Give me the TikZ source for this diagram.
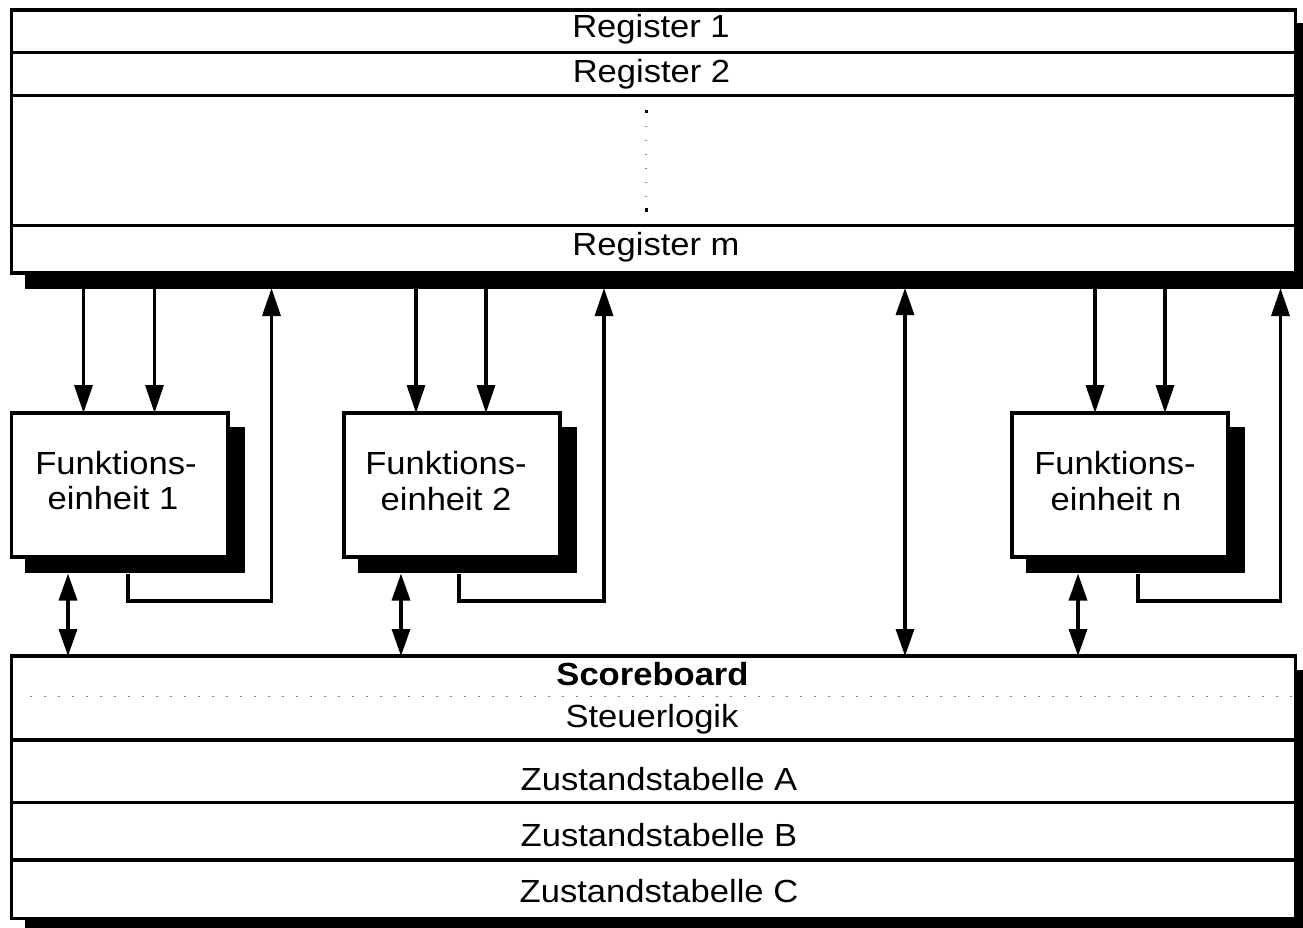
\documentclass[tikz,border=0pt]{standalone}
\usepackage{fontspec}
\setmainfont{Liberation Sans}[FakeStretch=1.08]
\usetikzlibrary{arrows.meta}
\newcommand\shadowof[1]{\fill ([shift={(13.5,13.5)}]#1.north west) rectangle ([shift={(16.5,16)}]#1.south east);}
\begin{document}
\begin{tikzpicture}[x=1pt,y=-1pt,
  blk/.style={draw=black, fill=white, line width=3.4pt, inner sep=0pt, outer sep=0pt},
  fubox/.style={blk, minimum width=216pt, minimum height=144pt},
  lbl/.style={font=\fontsize{32}{36}\selectfont, inner sep=0pt, anchor=base},
  rowline/.style={line width=3.4pt},
  dotline/.style={draw=gray, line width=1.5pt, dash pattern=on 1.5pt off 12.5pt},
  arr/.style={line width=3.4pt, -{Triangle[width=18pt,length=28pt]}},
  darr/.style={line width=3.4pt, {Triangle[width=18pt,length=27pt]}-{Triangle[width=18pt,length=27pt]}}]
\useasboundingbox (0,0) rectangle (1303,928);
\clip (0,0) rectangle (1303,928);
\fill[white] (0,0) rectangle (1303,928);

% ---------- register block ----------
\node[blk, minimum width=1284pt, minimum height=263pt] (reg) at (653.5,141.5) {};
\shadowof{reg}
\node[blk, minimum width=1284pt, minimum height=263pt] (regb) at (653.5,141.5) {};
\draw[rowline] (11.5,52.7) -- (1295.5,52.7);
\draw[rowline] (11.5,95.7) -- (1295.5,95.7);
\draw[rowline] (11.5,225.3) -- (1295.5,225.3);
\node[lbl] (r1) at (651,38) {Register 1};
\node[lbl] (r2) at (651.5,83) {Register 2};
\node[lbl] (rm) at (656,255) {Register m};
\draw[dotline] (646,112) -- (646,210);
\fill (644.5,110.5) rectangle (647.5,113.5);
\fill (644.5,208.5) rectangle (647.5,211.5);
\coordinate (regsh) at (0,288);

% ---------- scoreboard block ----------
\node[blk, minimum width=1284pt, minimum height=262.5pt] (sb) at (653.5,787.25) {};
\shadowof{sb}
\node[blk, minimum width=1284pt, minimum height=262.5pt] (sbb) at (653.5,787.25) {};
\draw[dotline] (30,696.5) -- (1292,696.5);
\draw[rowline] (11.5,740) -- (1295.5,740);
\draw[rowline] (11.5,802.3) -- (1295.5,802.3);
\draw[rowline] (11.5,860) -- (1295.5,860);
\node[lbl, font=\fontsize{32}{36}\selectfont\bfseries] (sbt) at (652.5,685) {Scoreboard};
\node[lbl] (st) at (652,727) {Steuerlogik};
\node[lbl] (za) at (659,790) {Zustandstabelle A};
\node[lbl] (zb) at (659,846) {Zustandstabelle B};
\node[lbl] (zc) at (659,902) {Zustandstabelle C};

% ---------- functional units ----------
\node[fubox, minimum width=216.5pt] (fu1) at (119.75,485) {};
\shadowof{fu1}
\node[fubox, minimum width=216.5pt] (fu1b) at (119.75,485) {};
\node[lbl] (fu1a) at (116,474) {Funktions-};
\node[lbl] (fu1c) at (113,509) {einheit 1};

\node[fubox] (fu2) at (452,485) {};
\shadowof{fu2}
\node[fubox] (fu2b) at (452,485) {};
\node[lbl] (fu2a) at (446,474) {Funktions-};
\node[lbl] (fu2c) at (446,510) {einheit 2};

\node[fubox] (fun) at (1120,485) {};
\shadowof{fun}
\node[fubox] (funb) at (1120,485) {};
\node[lbl] (funa) at (1115,474) {Funktions-};
\node[lbl] (func) at (1116,510) {einheit n};

\coordinate (fush) at (0,573.5);

% x positions of connectors
\coordinate (a11) at (83.5,0);  \coordinate (a12) at (154.5,0);
\coordinate (a1r) at (128,601); \coordinate (a1u) at (271.5,601);
\coordinate (a1d) at (68,0);
\coordinate (a21) at (416,0);   \coordinate (a22) at (486,0);
\coordinate (a2r) at (459,601); \coordinate (a2u) at (604,601);
\coordinate (a2d) at (401,0);
\coordinate (an1) at (1095,0);  \coordinate (an2) at (1165,0);
\coordinate (anr) at (1138,601); \coordinate (anu) at (1280.5,601);
\coordinate (and) at (1078,0);
\coordinate (along) at (905,0);

% ---------- connectors ----------
\draw[arr] (a11 |- regsh) -- (a11 |- fu1.north);
\draw[arr] (a12 |- regsh) -- (a12 |- fu1.north);
\draw[arr] (a1r |- fush) -- (a1r) -- (a1u) -- (a1u |- regsh);
\draw[darr] (a1d |- fush) -- (a1d |- sb.north);

\draw[arr] (a21 |- regsh) -- (a21 |- fu2.north);
\draw[arr] (a22 |- regsh) -- (a22 |- fu2.north);
\draw[arr] (a2r |- fush) -- (a2r) -- (a2u) -- (a2u |- regsh);
\draw[darr] (a2d |- fush) -- (a2d |- sb.north);

\draw[arr] (an1 |- regsh) -- (an1 |- fun.north);
\draw[arr] (an2 |- regsh) -- (an2 |- fun.north);
\draw[arr] (anr |- fush) -- (anr) -- (anu) -- (anu |- regsh);
\draw[darr] (and |- fush) -- (and |- sb.north);

\draw[darr] (along |- regsh) -- (along |- sb.north);
\end{tikzpicture}
\end{document}
